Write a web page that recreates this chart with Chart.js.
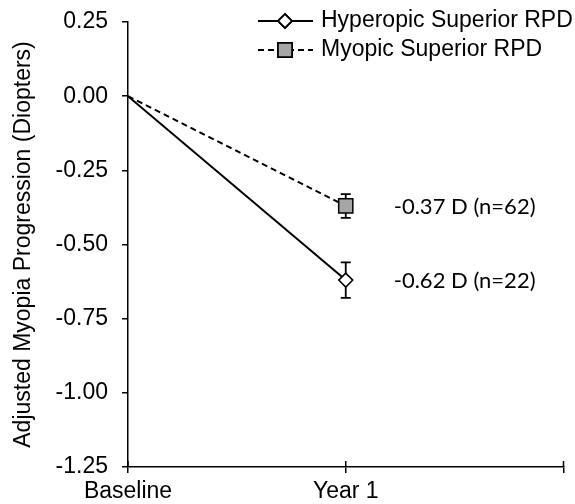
<!DOCTYPE html>
<html lang="en">
<head>
    <meta charset="UTF-8">
    <title>Adjusted Myopia Progression</title>
    <script src="https://cdn.jsdelivr.net/npm/chart.js@4.4.1/dist/chart.umd.min.js"></script>
    <style>
        html, body { margin: 0; padding: 0; background: #fff; }
        #wrap { width: 575px; height: 504px; }
    </style>
</head>
<body>
<div id="wrap">
    <canvas id="chart_progression" width="575" height="504" role="img"
            aria-label="Adjusted myopia progression chart"></canvas>
</div>

<script>
    // data
    const timeLabels = ['Baseline', 'Year 1', ''];
    const timeX = [0, 1];
    const hyperopicMean = [0, -0.62];
    const hyperopicLow = [null, -0.68];
    const hyperopicHigh = [null, -0.56];
    const myopicMean = [0, -0.37];
    const myopicLow = [null, -0.41];
    const myopicHigh = [null, -0.33];
    const endNotes = ['-0.62 D (n=22)', '-0.37 D (n=62)'];
    const yTicks = [0.25, 0, -0.25, -0.5, -0.75, -1, -1.25];

    const armFamily = '"Liberation Sans", Arial, sans-serif';
    const armFont = '23px ' + armFamily;

    function toPoints(means) {
        return timeX.map((x, i) => ({x: x, y: means[i]}));
    }

    // error bars, end notes, legend and inward tick halves
    const extrasPlugin = {
        id: 'extras',
        beforeDatasetsDraw(chart) {
            const ctx = chart.ctx;
            const xs = chart.scales.x, ys = chart.scales.y;
            const bars = [[hyperopicLow, hyperopicHigh], [myopicLow, myopicHigh]];
            ctx.save();
            ctx.strokeStyle = '#000';
            ctx.lineWidth = 1.8;
            bars.forEach(([low, high]) => {
                timeX.forEach((x, i) => {
                    if (low[i] === null) return;
                    const px = xs.getPixelForValue(x);
                    const y1 = ys.getPixelForValue(low[i]);
                    const y2 = ys.getPixelForValue(high[i]);
                    ctx.beginPath();
                    ctx.moveTo(px, y1); ctx.lineTo(px, y2);
                    ctx.moveTo(px - 5, y1); ctx.lineTo(px + 5, y1);
                    ctx.moveTo(px - 5, y2); ctx.lineTo(px + 5, y2);
                    ctx.stroke();
                });
            });
            ctx.restore();
        },
        afterDraw(chart) {
            const ctx = chart.ctx;
            const xs = chart.scales.x, ys = chart.scales.y;
            ctx.save();

            // inward half of the x ticks
            ctx.strokeStyle = '#000';
            ctx.lineWidth = 1.5;
            [0, 1, 2].forEach(v => {
                const px = xs.getPixelForValue(v);
                ctx.beginPath();
                ctx.moveTo(px, ys.bottom);
                ctx.lineTo(px, ys.bottom - 6);
                ctx.stroke();
            });

            // notes next to year 1 points
            ctx.fillStyle = '#000';
            ctx.font = '22px Lato, "Open Sans", sans-serif';
            ctx.textAlign = 'left';
            ctx.textBaseline = 'middle';
            const px1 = xs.getPixelForValue(1);
            ctx.fillText(endNotes[0], px1 + 48, ys.getPixelForValue(hyperopicMean[1]) + 1);
            ctx.fillText(endNotes[1], px1 + 48, ys.getPixelForValue(myopicMean[1]) + 1);

            // legend
            const rows = [
                {y: 21, dash: [], style: 'rectRot', r: 7, fill: '#fff', text: chart.data.datasets[0].label},
                {y: 50, dash: [6, 4], style: 'rect', r: 10, fill: '#a6a6a6', text: chart.data.datasets[1].label}
            ];
            rows.forEach(row => {
                ctx.strokeStyle = '#000';
                ctx.lineWidth = 1.8;
                ctx.setLineDash(row.dash);
                ctx.beginPath();
                ctx.moveTo(258, row.y);
                ctx.lineTo(313, row.y);
                ctx.stroke();
                ctx.setLineDash([]);
                ctx.fillStyle = row.fill;
                Chart.helpers.drawPoint(ctx, {pointStyle: row.style, radius: row.r, borderWidth: 1.5, rotation: 0}, 285, row.y);
                ctx.fill();
                ctx.stroke();
                ctx.fillStyle = '#000';
                ctx.font = armFont;
                ctx.textAlign = 'left';
                ctx.textBaseline = 'middle';
                ctx.fillText(row.text, 321, row.y);
            });
            ctx.restore();
        }
    };

    let chartProgression = new Chart(
        document.getElementById('chart_progression'),
        {
            type: 'line',
            data: {
                datasets: [
                    {
                        label: 'Hyperopic Superior RPD',
                        data: toPoints(hyperopicMean),
                        borderColor: '#000',
                        borderWidth: 2,
                        pointStyle: 'rectRot',
                        pointRadius: [0, 7],
                        pointBackgroundColor: '#fff',
                        pointBorderColor: '#000',
                        pointBorderWidth: 1.5,
                        order: 1
                    },
                    {
                        label: 'Myopic Superior RPD',
                        data: toPoints(myopicMean),
                        borderColor: '#000',
                        borderWidth: 2,
                        borderDash: [6, 4],
                        pointStyle: 'rect',
                        pointRadius: [0, 10],
                        pointBackgroundColor: '#a6a6a6',
                        pointBorderColor: '#000',
                        pointBorderWidth: 1.5,
                        order: 2
                    }
                ]
            },
            options: {
                responsive: false,
                animation: false,
                devicePixelRatio: 1,
                layout: {padding: {top: 22, right: 9, bottom: 0, left: 0}},
                scales: {
                    x: {
                        type: 'linear',
                        min: 0,
                        max: 2,
                        afterFit: s => { s.height = 37; },
                        afterBuildTicks: s => { s.ticks = [0, 1, 2].map(v => ({value: v})); },
                        ticks: {
                            callback: v => timeLabels[v],
                            color: '#000',
                            font: {family: armFamily, size: 23},
                            padding: 5,
                            maxRotation: 0,
                            autoSkip: false
                        },
                        grid: {drawOnChartArea: false, tickLength: 6, color: '#000', lineWidth: 1.5},
                        border: {color: '#000', width: 1.5}
                    },
                    y: {
                        min: -1.25,
                        max: 0.25,
                        afterFit: s => {
                            s.width = 128;
                            s.paddingTop = 0;
                            s.paddingBottom = 0;
                        },
                        afterBuildTicks: s => { s.ticks = yTicks.map(v => ({value: v})); },
                        ticks: {
                            callback: v => v.toFixed(2),
                            color: '#000',
                            font: {family: armFamily, size: 23},
                            padding: 14
                        },
                        title: {
                            display: true,
                            text: 'Adjusted Myopia Progression (Diopters)',
                            color: '#000',
                            font: {family: armFamily, size: 23},
                            padding: {top: 10, bottom: 0}
                        },
                        grid: {drawOnChartArea: false, tickLength: 6, color: '#000', lineWidth: 1.5},
                        border: {color: '#000', width: 1.5}
                    }
                },
                plugins: {
                    legend: {display: false},
                    tooltip: {enabled: false}
                }
            },
            plugins: [extrasPlugin]
        }
    );
</script>
</body>
</html>
